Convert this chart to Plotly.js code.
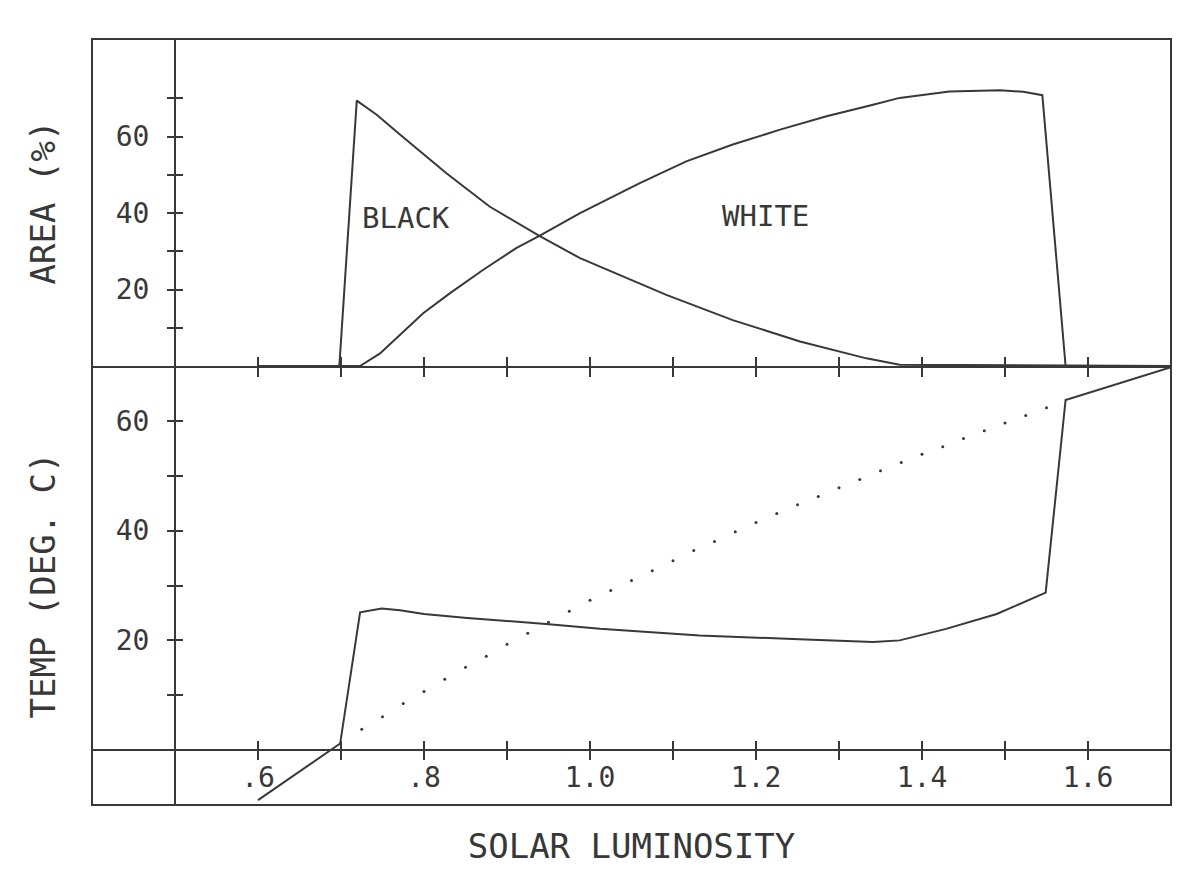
<!DOCTYPE html>
<html>
<head>
<meta charset="utf-8">
<script src="https://cdn.plot.ly/plotly-3.0.1.min.js"></script>
<style>
  html, body { margin: 0; padding: 0; background: #ffffff; }
  #chart { width: 1200px; height: 887px; }
</style>
</head>
<body>
<div id="chart"></div>
<script>
// Daisyworld: daisy cover (top) and planet temperature (bottom) vs solar luminosity

// top panel: area covered by black / white daisies (%)
const blackLum  = [0.6, 0.698, 0.719, 0.743, 0.771, 0.795, 0.827, 0.879, 0.939, 0.988, 1.092, 1.172, 1.253, 1.333, 1.373, 1.7];
const blackArea = [0, 0, 69.4, 65.7, 60.5, 56.1, 50.4, 41.7, 34.0, 28.2, 18.6, 12.0, 6.4, 2.0, 0.3, 0];

const whiteLum  = [0.6, 0.723, 0.747, 0.771, 0.799, 0.831, 0.871, 0.911, 0.939, 0.988, 1.060, 1.116, 1.172, 1.229, 1.285, 1.341, 1.373, 1.433, 1.494, 1.522, 1.545, 1.573, 1.7];
const whiteArea = [0, 0, 3.3, 8.1, 13.8, 19.0, 25.1, 30.8, 34.0, 40.0, 47.8, 53.5, 57.9, 61.8, 65.3, 68.3, 70.1, 71.8, 72.1, 71.7, 70.8, 0, 0];

// bottom panel: temperature with daisies (solid)
const tempLum = [0.6, 0.699, 0.723, 0.749, 0.771, 0.8, 0.852, 0.947, 1.012, 1.132, 1.252, 1.341, 1.373, 1.429, 1.49, 1.549, 1.573, 1.7];
const tempVal = [-9.1, 1.2, 25.1, 25.8, 25.5, 24.8, 24.1, 23.0, 22.1, 20.9, 20.2, 19.7, 20.0, 22.1, 24.8, 28.7, 63.8, 69.8];

// bottom panel: temperature without life (dotted)
const bareLum = [0.725, 0.75, 0.775, 0.8, 0.825, 0.85, 0.875, 0.9, 0.925, 0.95, 0.975, 1.0,
                 1.025, 1.05, 1.075, 1.1, 1.125, 1.15, 1.175, 1.2, 1.225, 1.25, 1.275, 1.3,
                 1.325, 1.35, 1.375, 1.4, 1.425, 1.45, 1.475, 1.5, 1.525, 1.55];
const bareVal = [3.8, 6.1, 8.5, 10.7, 12.9, 15.1, 17.1, 19.3, 21.3, 23.3, 25.3, 27.3,
                 29.1, 30.9, 32.7, 34.5, 36.4, 38.0, 39.8, 41.5, 43.1, 44.7, 46.2, 47.8,
                 49.3, 50.9, 52.4, 53.9, 55.3, 56.8, 58.2, 59.6, 61.0, 62.4];

// axis ticks
const xTickVals = [0.6, 0.7, 0.8, 0.9, 1.0, 1.1, 1.2, 1.3, 1.4, 1.5, 1.6];
const xTickText = ['.6', '', '.8', '', '1.0', '', '1.2', '', '1.4', '', '1.6'];
const areaTickVals = [10, 20, 30, 40, 50, 60, 70];
const areaTickText = ['', '20', '', '40', '', '60', ''];
const tempTickVals = [10, 20, 30, 40, 50, 60];
const tempTickText = ['', '20', '', '40', '', '60'];

const xRange = [0.4, 1.7];
const areaRange = [0, 85.5];
const tempRange = [-10, 70];

const INK = '#383838';
const FONT = 'DejaVu Sans Mono, monospace';

// split between panels, and where the vertical axis / temperature zero sit
const split = 439 / 766;
const yAxisPos = (0.5 - xRange[0]) / (xRange[1] - xRange[0]);
const tempZeroPos = split * (0 - tempRange[0]) / (tempRange[1] - tempRange[0]);

const lineStyle = { color: INK, width: 2 };

const traces = [
    { x: blackLum, y: blackArea, xaxis: 'x', yaxis: 'y', mode: 'lines', line: lineStyle, name: 'Black' },
    { x: whiteLum, y: whiteArea, xaxis: 'x', yaxis: 'y', mode: 'lines', line: lineStyle, name: 'White' },
    { x: tempLum, y: tempVal, xaxis: 'x2', yaxis: 'y2', mode: 'lines', line: lineStyle, name: 'Temp' },
    { x: bareLum, y: bareVal, xaxis: 'x2', yaxis: 'y2', mode: 'markers',
      marker: { color: INK, size: 3 }, name: 'No life' },
    // empty traces so the overlay axes (second half of each crossing tick) get drawn
    { x: [], y: [], xaxis: 'x3', yaxis: 'y', mode: 'lines', hoverinfo: 'skip' },
    { x: [], y: [], xaxis: 'x4', yaxis: 'y2', mode: 'lines', hoverinfo: 'skip' },
    { x: [], y: [], xaxis: 'x', yaxis: 'y3', mode: 'lines', hoverinfo: 'skip' },
    { x: [], y: [], xaxis: 'x2', yaxis: 'y4', mode: 'lines', hoverinfo: 'skip' }
];

function xAx(extra) {
    return Object.assign({
        range: xRange, domain: [0, 1], fixedrange: true,
        tickmode: 'array', tickvals: xTickVals, ticktext: xTickText,
        ticklen: 9, tickwidth: 2, tickcolor: INK,
        showgrid: false, zeroline: false, showticklabels: false,
        tickfont: { family: FONT, size: 28, color: INK }
    }, extra);
}

function yAx(extra) {
    return Object.assign({
        anchor: 'free', position: yAxisPos, fixedrange: true,
        tickmode: 'array', ticklen: 7, tickwidth: 2, tickcolor: INK,
        showgrid: false, zeroline: false, showticklabels: false,
        tickfont: { family: FONT, size: 28, color: INK }
    }, extra);
}

const layout = {
    width: 1200, height: 887,
    margin: { l: 92, r: 29, t: 39, b: 82 },
    paper_bgcolor: '#ffffff',
    plot_bgcolor: '#ffffff',
    showlegend: false,
    font: { family: FONT, color: INK },

    // top panel x axis, its line is the boundary between the panels
    xaxis: xAx({ anchor: 'y', ticks: 'outside', showline: true, linecolor: INK, linewidth: 2 }),
    xaxis3: xAx({ anchor: 'y', overlaying: 'x', ticks: 'inside' }),
    // bottom panel x axis at temperature zero
    xaxis2: xAx({
        anchor: 'free', position: tempZeroPos, ticks: 'outside',
        showline: true, linecolor: INK, linewidth: 2, showticklabels: true,
        ticklabelstandoff: -7,
        title: { text: 'SOLAR LUMINOSITY', font: { family: FONT, size: 34, color: INK }, standoff: 40 }
    }),
    xaxis4: xAx({ anchor: 'free', position: tempZeroPos, overlaying: 'x2', ticks: 'inside' }),

    yaxis: yAx({
        domain: [split, 1], range: areaRange, ticks: 'outside',
        tickvals: areaTickVals, ticktext: areaTickText, showticklabels: true,
        showline: true, linecolor: INK, linewidth: 2, ticklabelstandoff: 12,
        title: { text: 'AREA (%)', font: { family: FONT, size: 34, color: INK }, standoff: 49 }
    }),
    yaxis3: yAx({ domain: [split, 1], range: areaRange, overlaying: 'y', ticks: 'inside',
        tickvals: areaTickVals, ticktext: areaTickText }),
    yaxis2: yAx({
        domain: [0, split], range: tempRange, ticks: 'outside',
        tickvals: tempTickVals, ticktext: tempTickText, showticklabels: true,
        showline: true, linecolor: INK, linewidth: 2, ticklabelstandoff: 12,
        title: { text: 'TEMP (DEG. C)', font: { family: FONT, size: 34, color: INK }, standoff: 49 }
    }),
    yaxis4: yAx({ domain: [0, split], range: tempRange, overlaying: 'y2', ticks: 'inside',
        tickvals: tempTickVals, ticktext: tempTickText }),

    annotations: [
        { x: 0.778, y: 38.6, xref: 'x', yref: 'y', text: 'BLACK', showarrow: false,
          font: { family: FONT, size: 29, color: INK } },
        { x: 1.211, y: 39.1, xref: 'x', yref: 'y', text: 'WHITE', showarrow: false,
          font: { family: FONT, size: 29, color: INK } }
    ],

    // outer frame
    shapes: [
        { type: 'rect', xref: 'paper', yref: 'paper', x0: 0, x1: 1, y0: 0, y1: 1,
          line: { color: INK, width: 2 } }
    ]
};

Plotly.newPlot('chart', traces, layout, { displayModeBar: false, staticPlot: true });
</script>
</body>
</html>
